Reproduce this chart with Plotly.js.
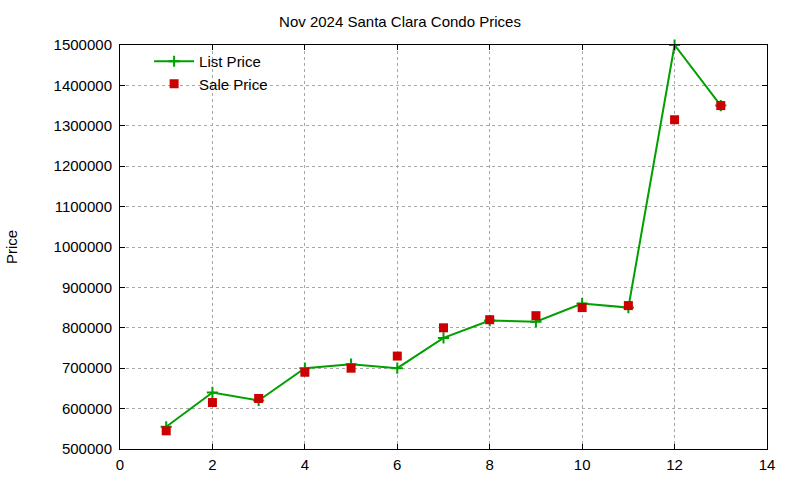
<!DOCTYPE html>
<html>
<head>
<meta charset="utf-8">
<script src="https://cdn.plot.ly/plotly-3.0.1.min.js"></script>
<style>html,body{margin:0;padding:0;background:#fff;}#chart{width:800px;height:480px;}</style>
</head>
<body>
<div id="chart"></div>
<script>
const months = [1, 2, 3, 4, 5, 6, 7, 8, 9, 10, 11, 12, 13];
const listPrice = [555000, 640000, 620000, 700000, 710000, 700000, 775000, 818000, 815000, 860000, 850000, 1500000, 1350000];
const salePrice = [545000, 615000, 625000, 690000, 700000, 730000, 800000, 820000, 830000, 850000, 855000, 1315000, 1350000];

const FONT = "Liberation Sans, Arial, sans-serif";

const traces = [
  {
    x: months, y: listPrice, name: "List Price", type: "scatter", mode: "lines+markers",
    cliponaxis: false,
    line: {color: "#00a000", width: 2},
    marker: {symbol: "cross-thin", size: 8, color: "#00a000", line: {color: "#00a000", width: 2}}
  },
  {
    x: months, y: salePrice, name: "Sale Price", type: "scatter", mode: "markers",
    cliponaxis: false,
    marker: {symbol: "square", size: 9, color: "#cc0000", line: {width: 0}}
  }
];

const axisCommon = {
  showline: true, linecolor: "#000", linewidth: 1, mirror: "allticks",
  ticks: "inside", ticklen: 5, tickcolor: "#000", tickwidth: 1,
  showgrid: true, gridcolor: "#a8a8a8", griddash: "dot", gridwidth: 1,
  zeroline: false,
  tickfont: {family: FONT, size: 15, color: "#000"}
};

const layout = {
  width: 800, height: 480,
  margin: {l: 120, r: 33, t: 45, b: 31},
  paper_bgcolor: "#fff", plot_bgcolor: "#fff",
  font: {family: FONT, color: "#000"},
  title: {text: "Nov 2024 Santa Clara Condo Prices", x: 0.5, xanchor: "center", y: 0.955, yanchor: "middle",
          font: {family: FONT, size: 15, color: "#000"}},
  xaxis: Object.assign({}, axisCommon, {range: [0, 14], tick0: 0, dtick: 2, ticklabelstandoff: 2}),
  yaxis: Object.assign({}, axisCommon, {range: [500000, 1500000], tick0: 500000, dtick: 100000, tickformat: "d",
          ticklabelstandoff: 4,
          title: {text: "Price", standoff: 32, font: {family: FONT, size: 15, color: "#000"}}}),
  showlegend: true,
  legend: {x: 0.045, y: 1.0, xanchor: "left", yanchor: "top", bgcolor: "rgba(0,0,0,0)",
           font: {family: FONT, size: 15, color: "#000"}, tracegroupgap: 0, itemwidth: 40}
};

Plotly.newPlot("chart", traces, layout, {displayModeBar: false, staticPlot: true});
</script>
</body>
</html>
